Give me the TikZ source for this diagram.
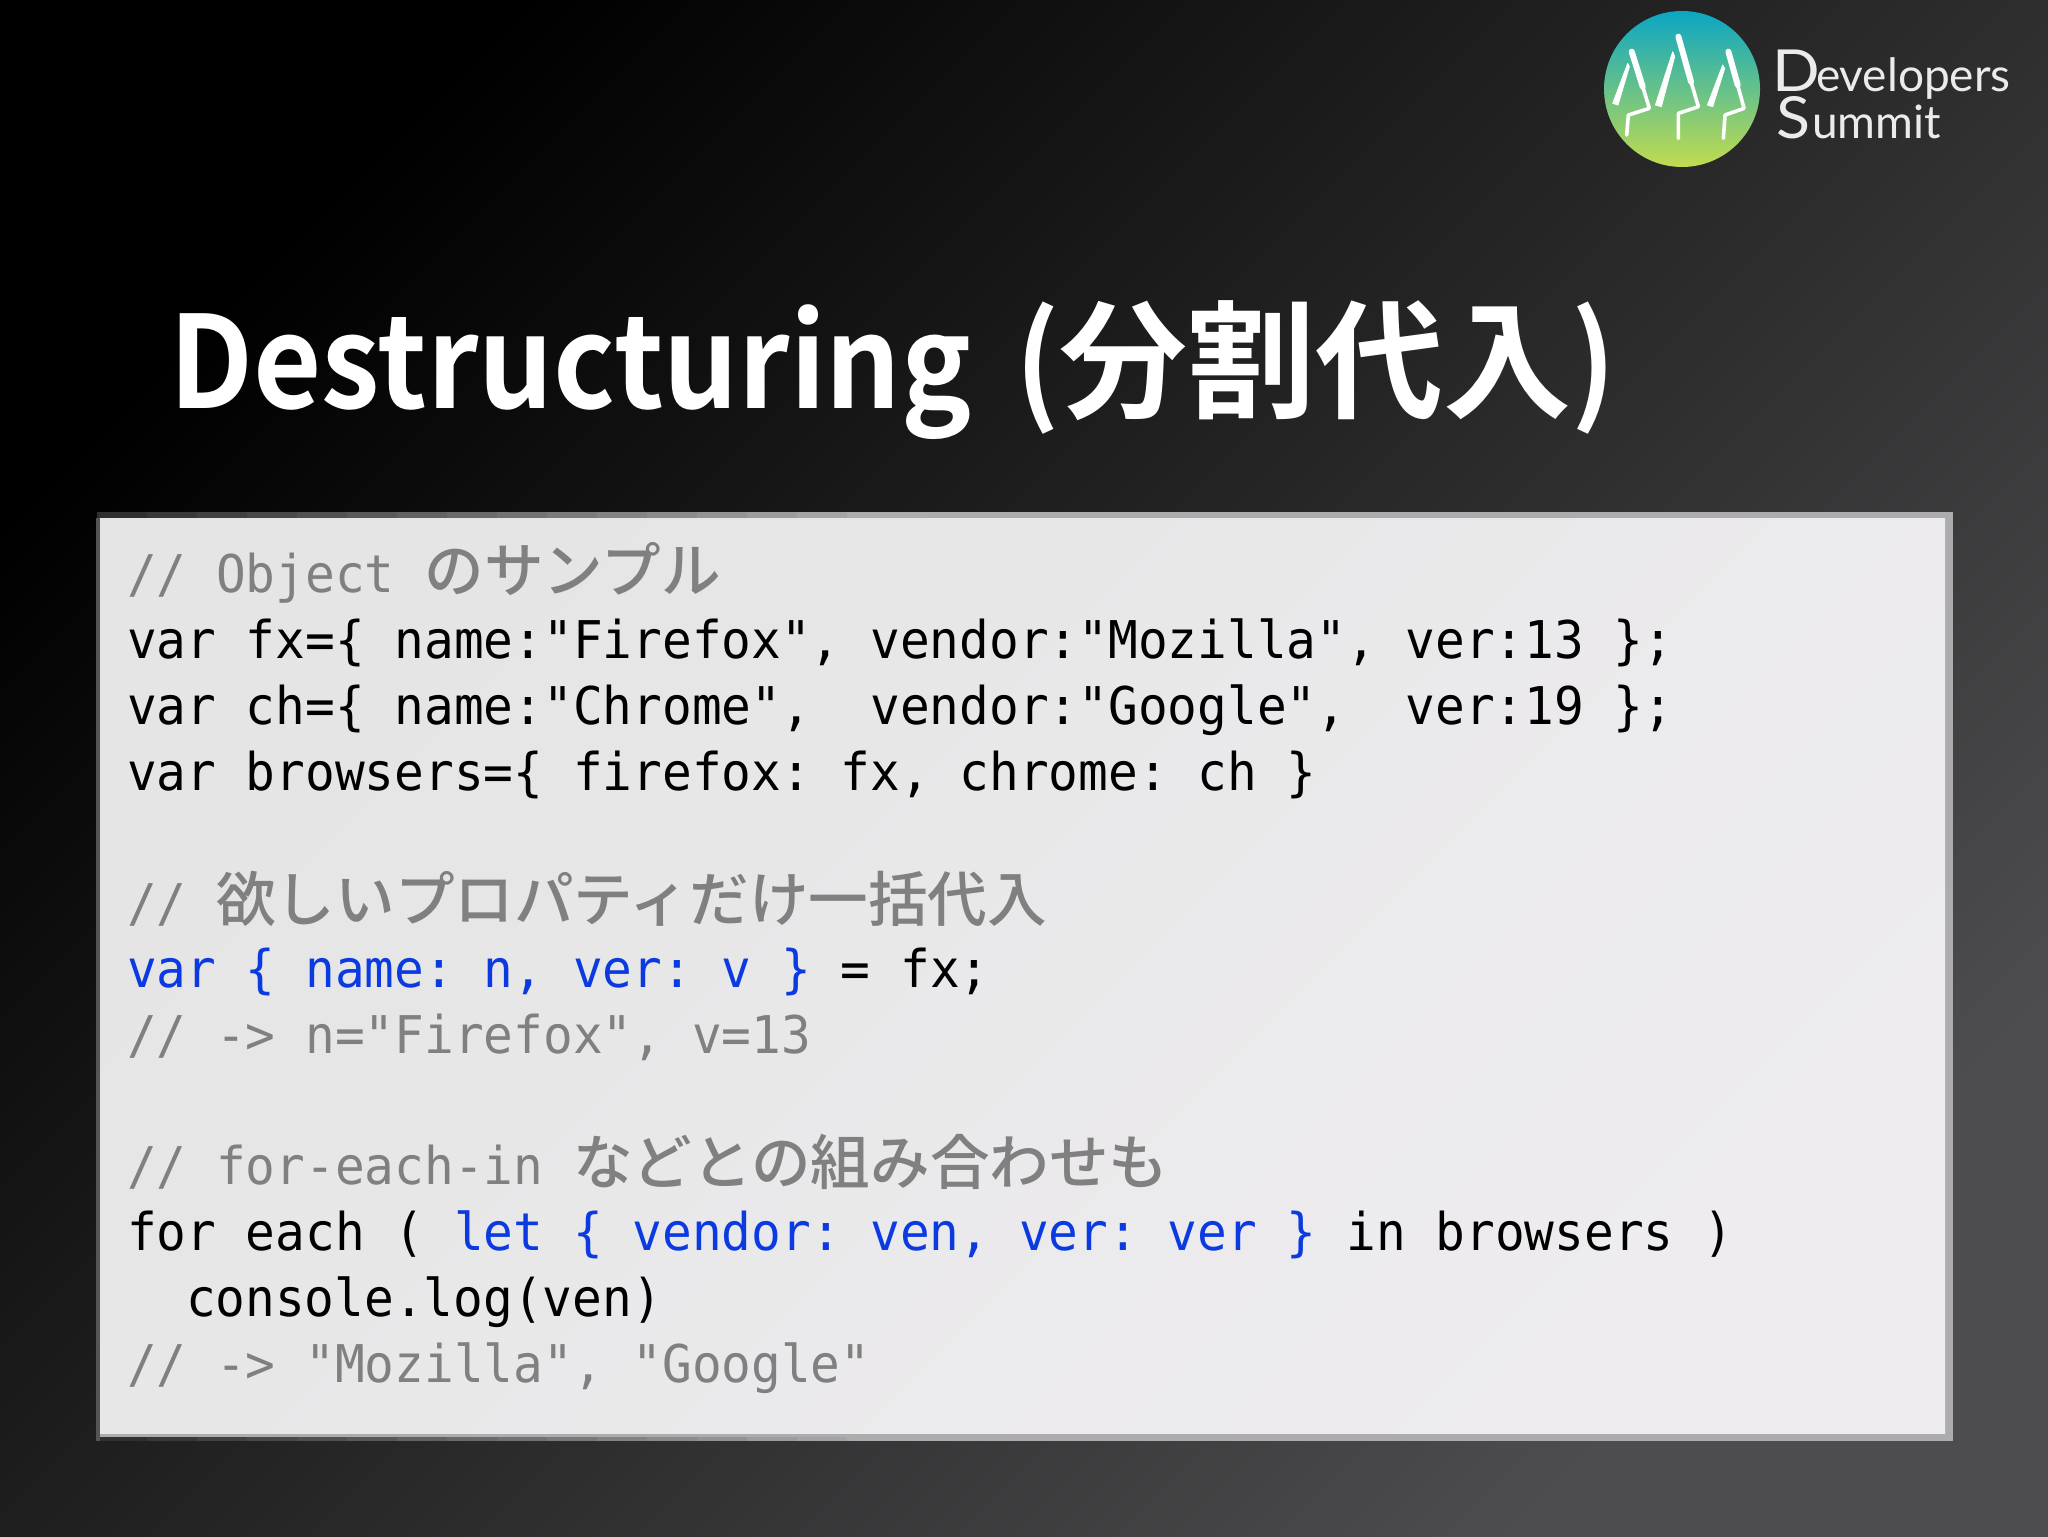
\documentclass[tikz,border=0pt]{standalone}
\usepackage{fontspec}
\newfontfamily\codefont[FakeStretch=0.95]{DejaVu Sans Mono}
\newfontfamily\cjkfont{Noto Sans CJK JP Medium}
\newfontfamily\titlelatin[FakeStretch=0.92]{Noto Sans CJK JP Bold}
\newfontfamily\titlecjk{Noto Sans CJK JP Bold}
\newfontfamily\logofont{Lato}
\newfontfamily\logowide[FakeStretch=1.08]{Lato}
\newcommand{\jp}[1]{{\cjkfont\fontsize{29.8pt}{30pt}\selectfont #1}}
\definecolor{cmt}{HTML}{808080}
\definecolor{kw}{HTML}{0B3BE0}
\definecolor{bgend}{HTML}{4D4C4E}
\definecolor{rim}{HTML}{ACACAE}
\definecolor{rimdark}{HTML}{303030}
\definecolor{paperA}{HTML}{E5E5E5}
\definecolor{paperB}{HTML}{EEECEF}
\definecolor{teal}{HTML}{0BA6C4}
\definecolor{midgreen}{HTML}{58B5A0}
\definecolor{lime}{HTML}{C2DC50}
\tikzset{
  codeline/.style={anchor=base west,inner sep=0pt,outer sep=0pt,text=black,font=\frenchspacing\codefont\fontsize{26pt}{30pt}\selectfont},
  cmtline/.style={codeline,text=cmt},
  trunk/.style={draw=white,line width=1.8pt,line cap=round,line join=round},
  crown/.style={draw=white,line width=3pt,line cap=round},
  branch/.style={fill=white,draw=white,line width=0.4pt,line join=round},
  logotext/.style={anchor=base west,inner sep=0pt,outer sep=0pt,text=white!92!black}
}
\begin{document}
\begin{tikzpicture}[x=0.5pt,y=-0.5pt]
\useasboundingbox (0,0) rectangle (2048,1536);
\shade[shading=axis,top color=black,bottom color=bgend,shading angle=45] (0,0) rectangle (2048,1536);
% logo
\shade[top color=teal,middle color=midgreen,bottom color=lime] (1682,89) circle [radius=78];
\begin{scope}[shift={(1560,0)},x=0.1667pt,y=-0.1667pt]
\fill[branch] (158,310) -- (203,190) -- (208,200) -- (174,315) -- cycle;
\draw[trunk] (245,250) -- (268,325) -- (205,345) -- (200,405);
\draw[crown] (215,155) -- (248,260);
\fill[branch] (286,315) -- (338,155) -- (344,170) -- (304,320) -- cycle;
\draw[trunk] (390,235) -- (415,320) -- (355,340) -- (355,415);
\draw[crown] (355,110) -- (393,245);
\fill[branch] (442,315) -- (488,195) -- (494,205) -- (458,320) -- cycle;
\draw[trunk] (530,245) -- (552,325) -- (495,345) -- (490,415);
\draw[crown] (505,155) -- (533,255);
\end{scope}
\node[logotext,font=\logowide\fontsize{29pt}{30pt}\selectfont] (d) at (1772,91) {D};
\node[logotext,font=\logofont\fontsize{23pt}{30pt}\selectfont] (ev) at (1816,91) {evelopers};
\node[logotext,font=\logowide\fontsize{29pt}{30pt}\selectfont] (s) at (1776,139) {S};
\node[logotext,font=\logofont\fontsize{23pt}{30pt}\selectfont] (um) at (1812,139) {ummit};
% title
\node[anchor=base west,inner sep=0pt,text=white,font=\titlelatin\fontsize{64pt}{70pt}\selectfont] (title) at (169,408) {Destructuring\hspace{8.5pt} ({\titlecjk 分割代入})};
% code box
\fill[rim] (97,512) rectangle (1953,1441);
\foreach \s in {0,1,...,15}{
  \pgfmathsetmacro{\mixval}{100-\s*100/15}
  \fill[rimdark!\mixval!rim] ({97+\s*50},512) rectangle ({97+(\s+1)*50},518);
  \fill[rimdark!\mixval!rim] ({97+\s*50},1437) rectangle ({97+(\s+1)*50},1441);
}
\fill[rimdark!70!rim] (96,518) rectangle (100,1441);
\shade[shading=axis,top color=paperA,bottom color=paperB,shading angle=45] (100,518) rectangle (1945,1433);
\node[cmtline] (l1) at (127,592) {// Object \jp{のサンプル}};
\node[codeline] (l2) at (127,658) {var fx=\{ name:"Firefox", vendor:"Mozilla", ver:13 \};};
\node[codeline] (l3) at (127,724) {var ch=\{ name:"Chrome",~~vendor:"Google",~~ver:19 \};};
\node[codeline] (l4) at (127,790) {var browsers=\{ firefox: fx, chrome: ch \}};
\node[cmtline] (l5) at (127,921) {// \jp{欲しいプロパティだけ一括代入}};
\node[codeline] (l6) at (127,987) {\textcolor{kw}{var \{ name: n, ver: v \}} = fx;};
\node[cmtline] (l7) at (127,1053) {// -> n="Firefox", v=13};
\node[cmtline] (l8) at (127,1184) {// for-each-in \jp{などとの組み合わせも}};
\node[codeline] (l9) at (127,1250) {for each ( \textcolor{kw}{let \{ vendor: ven, ver: ver \}} in browsers )};
\node[codeline] (l10) at (186,1316) {console.log(ven)};
\node[cmtline] (l11) at (127,1382) {// -> "Mozilla", "Google"};
\end{tikzpicture}
\end{document}
